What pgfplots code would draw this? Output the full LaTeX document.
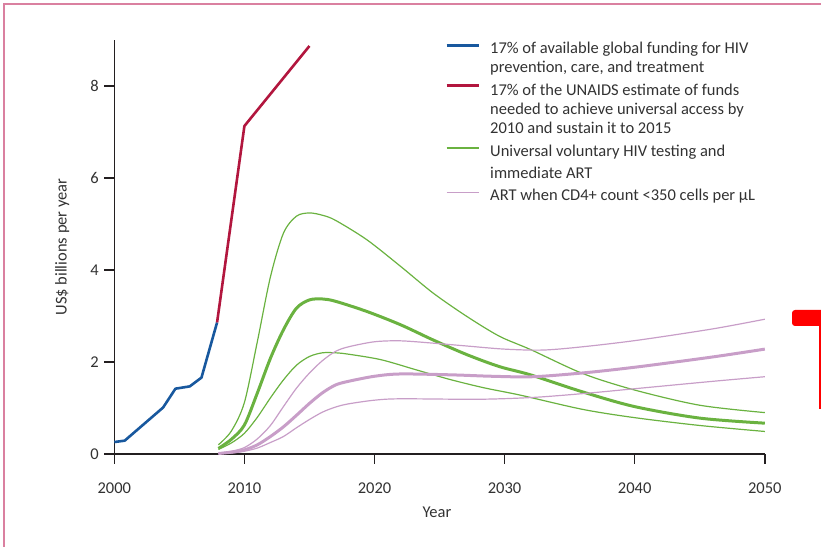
\documentclass[border=0pt]{standalone}
\usepackage{pgfplots}
\pgfplotsset{compat=1.18}
\usepackage{fontspec}
\setmainfont{Carlito}

\definecolor{fundblue}{RGB}{24,88,158}
\definecolor{fundred}{RGB}{178,22,62}
\definecolor{testgreen}{RGB}{106,178,64}
\definecolor{cdpink}{RGB}{200,158,200}
\definecolor{framepink}{RGB}{218,128,160}
\definecolor{axisgray}{RGB}{35,31,32}
\definecolor{textgray}{RGB}{50,50,50}
\definecolor{markred}{RGB}{255,0,0}

% legend sample: line width, vertical offset (to sit on the entry's first line)
\pgfplotsset{
  legline/.style 2 args={legend image code/.code={\draw[##1, line width=#1] (0bp,#2) -- (32bp,#2);}}
}

\begin{document}
\begin{tikzpicture}
\path[use as bounding box] (0,0) rectangle (821bp,547bp);
% frame of the panel
\draw[framepink, line width=1.3bp] (4bp,0) -- (4bp,543bp) -- (821bp,543bp);
% bracket at the right margin
\fill[markred, rounded corners=3bp] (792bp,221bp) rectangle (825bp,237bp);
\draw[markred, line width=2bp] (820bp,230bp) -- (820bp,138bp);

\begin{axis}[
  at={(114.3bp,93bp)}, anchor=south west,
  scale only axis, width=650.5bp, height=414bp,
  xmin=2000, xmax=2050, ymin=0, ymax=9,
  axis x line=bottom, axis y line=left,
  axis line style={-, line width=1.4bp, axisgray},
  xtick={2000,2010,...,2050}, ytick={0,2,4,6,8},
  xtick align=outside, ytick align=outside, major tick length=10bp,
  tick style={line width=1.4bp, axisgray},
  /pgf/number format/1000 sep={},
  /pgf/number format/assume math mode=true,
  font=\fontsize{16.5bp}{19bp}\selectfont,
  tick label style={font=\fontsize{16.5bp}{19bp}\selectfont, text=textgray},
  xticklabel style={yshift=-15bp},
  yticklabel style={xshift=-2bp},
  xlabel={Year}, ylabel={US\$ billions per year},
  every axis x label/.style={at={(axis description cs:0.496,-0.140)}, anchor=center, text=textgray},
  every axis y label/.style={at={(axis description cs:-0.0799,0.5)}, rotate=90, anchor=center, text=textgray},
  legend style={at={(axis description cs:0.5084,1.0)}, anchor=north west,
    draw=none, fill=none, inner sep=0pt, align=left, text=textgray,
    font=\fontsize{16.5bp}{19bp}\selectfont, row sep=8bp, column sep=10bp,
    nodes={inner sep=0pt, outer sep=0pt}},
  legend cell align=left,
  clip=false,
]
% funding actually available
\addplot[fundblue, line width=2.6bp, line join=round, legline={3bp}{11.7bp}]
  coordinates {(2000,0.26) (2000.8,0.29) (2003.75,1.01) (2004.7,1.42) (2005.8,1.47) (2006.7,1.66) (2007.9,2.86)};
\addlegendentry{\strut 17\% of available global funding for HIV\\prevention, care, and treatment\strut}

% funds needed for universal access
\addplot[fundred, line width=2.6bp, line join=round, legline={3bp}{23.2bp}]
  coordinates {(2007.9,2.86) (2010,7.13) (2015,8.87)};
\addlegendentry{\strut 17\% of the UNAIDS estimate of funds\\needed to achieve universal access by\\2010 and sustain it to 2015\rule[-9.7bp]{0pt}{10bp}}

% universal testing and immediate ART: upper, central, lower
\addplot[testgreen, line width=1.2bp, smooth, legline={1.3bp}{13.2bp}]
  coordinates {(2008,0.20) (2009,0.50) (2010,1.12) (2011,2.45) (2012,3.85) (2013,4.80) (2014,5.17) (2015,5.24) (2016,5.19) (2017,5.08) (2019.4,4.66) (2022,4.08) (2024.5,3.50) (2027.1,2.99) (2029.6,2.56) (2032,2.27) (2036,1.75) (2040,1.39) (2045,1.06) (2050,0.90)};
\addlegendentry{\strut Universal voluntary HIV testing and\\[3bp]immediate ART\strut}
\addplot[testgreen, line width=3bp, smooth, forget plot]
  coordinates {(2008,0.12) (2009,0.32) (2010,0.63) (2011,1.33) (2012,2.08) (2013,2.70) (2014,3.17) (2015,3.35) (2016,3.37) (2017,3.32) (2019.4,3.10) (2022,2.81) (2024.5,2.48) (2027.1,2.16) (2029.6,1.90) (2032,1.72) (2036,1.35) (2040,1.03) (2045,0.78) (2050,0.67)};
\addplot[testgreen, line width=1.2bp, smooth, forget plot]
  coordinates {(2008,0.10) (2009,0.24) (2010,0.45) (2011,0.80) (2012,1.22) (2013,1.61) (2014,1.93) (2015,2.12) (2016,2.20) (2017,2.20) (2018,2.17) (2020.5,2.05) (2023.2,1.83) (2025.8,1.62) (2028.4,1.44) (2031.2,1.28) (2036,0.97) (2040,0.79) (2045,0.62) (2050,0.49)};

% ART at CD4+ < 350: upper, central, lower
\addplot[cdpink, line width=1.2bp, smooth, legline={1.3bp}{2.2bp}]
  coordinates {(2008,0.02) (2009,0.06) (2010,0.14) (2011,0.33) (2012,0.62) (2013,1.03) (2014,1.43) (2015,1.76) (2016,2.03) (2017,2.23) (2018,2.33) (2020,2.44) (2022,2.46) (2024.5,2.41) (2027,2.35) (2030,2.28) (2033,2.26) (2036.3,2.34) (2040.4,2.48) (2046,2.72) (2050,2.93)};
\addlegendentry{\strut ART when CD4+ count <350 cells per µL}
\addplot[cdpink, line width=3bp, smooth, forget plot]
  coordinates {(2008,0.01) (2009,0.04) (2010,0.09) (2011,0.20) (2012,0.38) (2013,0.59) (2014,0.84) (2015,1.10) (2016,1.33) (2017,1.50) (2018,1.58) (2020,1.69) (2022,1.74) (2026,1.72) (2029,1.69) (2032.2,1.68) (2036.3,1.77) (2040.4,1.90) (2046,2.11) (2050,2.28)};
\addplot[cdpink, line width=1.2bp, smooth, forget plot]
  coordinates {(2008,0.01) (2009,0.02) (2010,0.06) (2011,0.13) (2012,0.25) (2013,0.38) (2014,0.57) (2015,0.75) (2016,0.91) (2017,1.02) (2018,1.09) (2020,1.17) (2022,1.20) (2028,1.19) (2032.2,1.23) (2036.3,1.32) (2040.4,1.43) (2046,1.58) (2050,1.68)};
\end{axis}
\end{tikzpicture}
\end{document}
